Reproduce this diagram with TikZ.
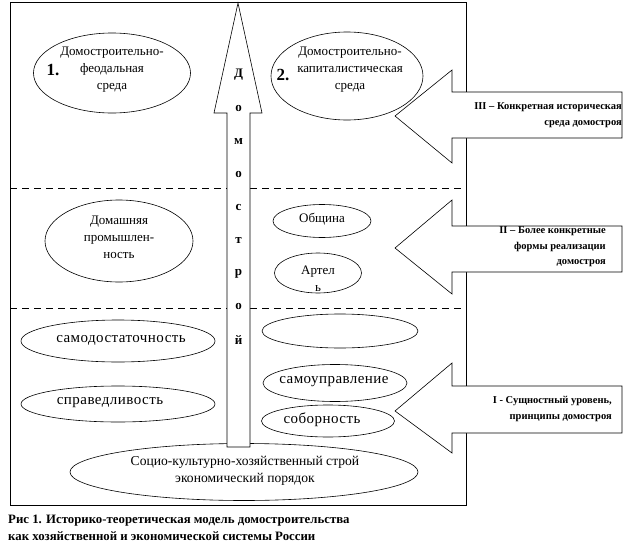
\documentclass[tikz,border=0pt]{standalone}
\usepackage{fontspec}
\setmainfont{Liberation Serif}
\newfontfamily\widefont[LetterSpace=3]{Liberation Serif}
\usetikzlibrary{shapes.geometric}
\tikzset{
  ell/.style={draw, ellipse, fill=white, inner sep=0pt, line width=0.6pt},
  etext/.style={align=center, inner sep=0pt, font=\fontsize{13}{17}\selectfont},
  ptext/.style={inner sep=0pt, font=\widefont\fontsize{15}{18}\selectfont},
  num/.style={inner sep=0pt, font=\fontsize{17}{18}\selectfont\bfseries},
  lbl/.style={align=right, inner sep=0pt, anchor=east, font=\fontsize{10.5}{15.5}\selectfont\bfseries},
  vlet/.style={inner sep=0pt, font=\fontsize{13}{13}\selectfont\bfseries},
  arr/.style={draw, fill=white, line width=0.6pt},
  dashline/.style={dashed, dash pattern=on 7pt off 5pt, line width=0.6pt}
}
\begin{document}
\begin{tikzpicture}[x=1pt,y=-1pt]
\useasboundingbox (0,0) rectangle (625,549);
% frame
\draw[line width=0.6pt] (10,2) rectangle (466,505);
\draw[dashline] (10,188) -- (466,188);
\draw[dashline] (10,308) -- (466,308);

% level III ellipses
\node[ell, minimum width=157pt, minimum height=80pt] (e1) at (112,73) {};
\node[etext] (t1) at (112,70) {Домостроительно-\\феодальная\\среда};
\node[num] (n1) at (53,70) {1.};
\node[ell, minimum width=152pt, minimum height=88pt] (e2) at (347,76) {};
\node[etext] (t2) at (350,70) {Домостроительно-\\капиталистическая\\среда};
\node[num] (n2) at (283,75) {2.};

% level II ellipses
\node[ell, minimum width=148pt, minimum height=82pt] (e3) at (119,241) {};
\node[etext] (t3) at (119,237) {Домашняя\\промышлен-\\ность};
\node[ell, minimum width=98pt, minimum height=33pt] (e4) at (322,221) {};
\node[etext] (t4) at (322,219) {Община};
\node[ell, minimum width=87pt, minimum height=40pt] (e5) at (318,273) {};
\node[etext] (t5) at (318,279) {Артел\\ь};

% level I ellipses
\node[ell, minimum width=194pt, minimum height=42pt] (e6) at (118,341) {};
\node[ptext] (t6) at (121,340) {самодостаточность};
\node[ell, minimum width=194pt, minimum height=36pt] (e7) at (118,404) {};
\node[ptext] (t7) at (110,403) {справедливость};
\node[ell, minimum width=156pt, minimum height=34pt] (e8) at (340,331) {};
\node[ell, minimum width=144pt, minimum height=37pt] (e9) at (335,383) {};
\node[ptext] (t9) at (334,382) {самоуправление};
\node[ell, minimum width=133pt, minimum height=32pt] (e10) at (328,421) {};
\node[ptext] (t10) at (322,420) {соборность};
\node[ell, minimum width=348pt, minimum height=57pt] (e11) at (244,472) {};
\node[etext, font=\fontsize{13.6}{17}\selectfont] (t11) at (245,471) {Социо-культурно-хозяйственный строй\\экономический порядок};

% vertical arrow
\draw[arr] (238,3) -- (262,113) -- (250,113) -- (250,447) -- (227,447) -- (227,113) -- (214,113) -- cycle;
\foreach \ch [count=\i from 0] in {Д,о,м,о,с,т,р,о,й}
  \node[vlet] (v\i) at (238.5,{75+33.1*\i}) {\ch};

% horizontal arrows
\draw[arr] (395,116) -- (452,70) -- (452,92) -- (622,92) -- (622,138) -- (452,138) -- (452,163) -- cycle;
\node[lbl] (l3) at (622,115) {III – Конкретная историческая\\среда домостроя};
\draw[arr] (395,248) -- (452,200) -- (452,226) -- (622,226) -- (622,272) -- (452,272) -- (452,294) -- cycle;
\node[lbl] (l2) at (606,247) {II – Более конкретные\\формы реализации\\домостроя};
\draw[arr] (395,411) -- (452,363) -- (452,386) -- (622,386) -- (622,433) -- (452,433) -- (452,453) -- cycle;
\node[lbl] (l1) at (612,409) {I - Сущностный уровень,\\принципы домостроя};

% caption
\node[anchor=north west, align=left, inner sep=0pt, font=\fontsize{12.8}{17}\selectfont\bfseries] (cap) at (8,515) {Рис 1. Историко-теоретическая модель домостроительства\\как хозяйственной и экономической системы России};
\end{tikzpicture}
\end{document}
